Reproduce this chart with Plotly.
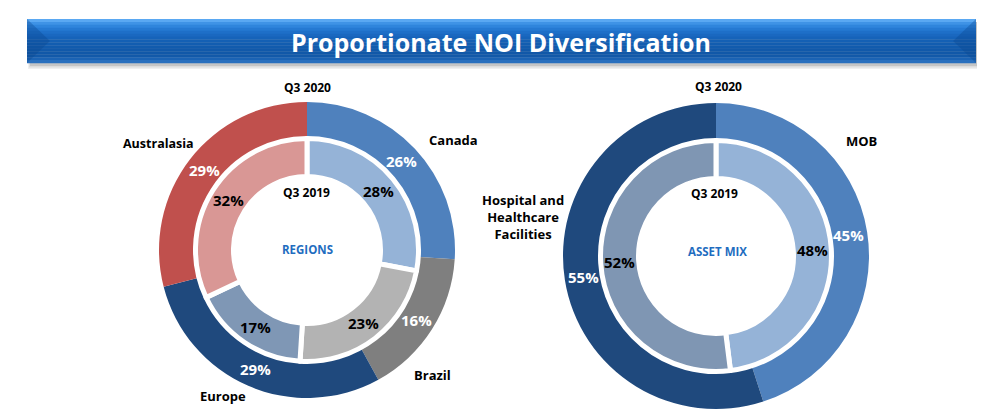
import math
import plotly.graph_objects as go

# page body has an 8px margin; size the figure to fit the window
OFF = 8
W, H = 985 - OFF, 418 - OFF

# ---- data ----
region_labels = ["Canada", "Brazil", "Europe", "Australasia"]
region_q3_2020 = [26, 16, 29, 29]
region_q3_2019 = [28, 23, 17, 32]
region_outer_colors = ["#4F81BD", "#7F7F7F", "#1F497D", "#C0504D"]
region_inner_colors = ["#95B3D7", "#B3B3B3", "#7F97B5", "#D99795"]

asset_labels = ["MOB", "Hospital and<br>Healthcare<br>Facilities"]
asset_q3_2020 = [45, 55]
asset_q3_2019 = [48, 52]
asset_outer_colors = ["#4F81BD", "#1F497D"]
asset_inner_colors = ["#95B3D7", "#7F96B3"]

title_text = "Proportionate NOI Diversification"
outer_period = "Q3 2020"
inner_period = "Q3 2019"
center_titles = ["REGIONS", "ASSET MIX"]

FONT = "Open Sans"


def px(x):
    return (x - OFF) / W


def py(y):
    return 1 - (y - OFF) / H


def domain(cx, cy, r):
    return dict(x=[px(cx - r), px(cx + r)], y=[py(cy + r), py(cy - r)])


fig = go.Figure()
ann = []

LW = 5  # white separator on inner rings


def pct_labels(vals, cx, cy, rmid, color):
    total = float(sum(vals))
    cum = 0.0
    for v in vals:
        mid = (cum + v / 2) / total * 2 * math.pi
        cum += v
        x = cx + rmid * math.sin(mid)
        y = cy - rmid * math.cos(mid)
        ann.append(dict(text=f"<b>{v}%</b>", x=px(x), y=py(y), xref="paper", yref="paper",
                        showarrow=False, xanchor="center", yanchor="middle",
                        font=dict(family=FONT, size=15, color=color)))


def add_donut(labels, outer_vals, inner_vals, outer_cols, inner_cols, cx, cy, R, hole_o, R_in, hole_in):
    fig.add_trace(go.Pie(
        labels=labels, values=outer_vals, sort=False, direction="clockwise", rotation=0,
        hole=hole_o / R, domain=domain(cx, cy, R),
        marker=dict(colors=outer_cols, line=dict(color="white", width=0)),
        textinfo="none", showlegend=False, hoverinfo="label+value",
    ))
    fig.add_trace(go.Pie(
        labels=labels, values=inner_vals, sort=False, direction="clockwise", rotation=0,
        hole=hole_in / R_in, domain=domain(cx, cy, R_in),
        marker=dict(colors=inner_cols, line=dict(color="white", width=LW)),
        textinfo="none", showlegend=False, hoverinfo="label+value",
    ))
    pct_labels(outer_vals, cx, cy, (R + hole_o) / 2, "white")
    pct_labels(inner_vals, cx, cy, (R_in + hole_in) / 2, "black")


# left donut (regions)
add_donut(region_labels, region_q3_2020, region_q3_2019, region_outer_colors, region_inner_colors,
          307, 250, 148, 112, 111.5, 73.5)
# right donut (asset mix)
add_donut(asset_labels, asset_q3_2020, asset_q3_2019, asset_outer_colors, asset_inner_colors,
          716, 256, 153, 116, 115.5, 77.5)

shapes = []
# banner shadow
for i, a in enumerate([0.06, 0.08, 0.1]):
    shapes.append(dict(type="rect", xref="paper", yref="paper", x0=px(28 + i), x1=px(979 - i),
                       y0=py(69 - i * 1.5), y1=py(22), fillcolor=f"rgba(0,0,0,{a})",
                       line=dict(width=0), layer="below"))
# banner gradient strips
grad = ["#5AA8F2", "#3F93E6", "#2F85DC", "#2579D2", "#1E6FC8", "#1A68C0", "#1663B9",
        "#1460B4", "#125DB0", "#115BAD", "#1159AA", "#1158A8", "#1259A9", "#1B63B4", "#2A70BE"]
y0b, y1b = 19, 63
n = len(grad)
for i, c in enumerate(grad):
    ya = y0b + (y1b - y0b) * i / n
    yb = y0b + (y1b - y0b) * (i + 1) / n
    shapes.append(dict(type="rect", xref="paper", yref="paper", x0=px(27), x1=px(976),
                       y0=py(yb + 0.3), y1=py(ya), fillcolor=c, line=dict(width=0), layer="below"))
# bevel triangles at banner ends
shapes.append(dict(type="path", xref="paper", yref="paper", layer="below",
                   path=f"M {px(27)},{py(19)} L {px(50)},{py(41)} L {px(27)},{py(63)} Z",
                   fillcolor="rgba(10,70,140,0.35)", line=dict(width=0)))
shapes.append(dict(type="path", xref="paper", yref="paper", layer="below",
                   path=f"M {px(976)},{py(19)} L {px(953)},{py(41)} L {px(976)},{py(63)} Z",
                   fillcolor="rgba(10,70,140,0.35)", line=dict(width=0)))

ann.append(dict(text=f"<b>{title_text}</b>", x=px(501), y=py(42), xref="paper", yref="paper",
                xanchor="center", yanchor="middle",
                showarrow=False, font=dict(family=FONT, size=25, color="white")))


def label(text, x, y, size=13, color="black", xanchor="center"):
    ann.append(dict(text=f"<b>{text}</b>", x=px(x), y=py(y), xref="paper", yref="paper",
                    showarrow=False, xanchor=xanchor, yanchor="middle", align="center",
                    font=dict(family=FONT, size=size, color=color)))


# period labels
label(outer_period, 307, 88, 12)
label(outer_period, 718, 87, 12)
label(inner_period, 306, 193, 12)
label(inner_period, 714, 194, 12)
label(center_titles[0], 307, 249, 11.5, "#1F6DC0")
label(center_titles[1], 717, 251, 11.5, "#1F6DC0")

# category labels
label(region_labels[0], 453, 140)
label(region_labels[1], 432, 375)
label(region_labels[2], 223, 396)
label(region_labels[3], 158, 143, 12.5)
label(asset_labels[0], 862, 141)
label(asset_labels[1], 523, 217)

fig.update_layout(
    width=W, height=H, margin=dict(l=0, r=0, t=0, b=0),
    paper_bgcolor="white", plot_bgcolor="white",
    shapes=shapes, annotations=ann,
)

fig.write_html("out.html")
